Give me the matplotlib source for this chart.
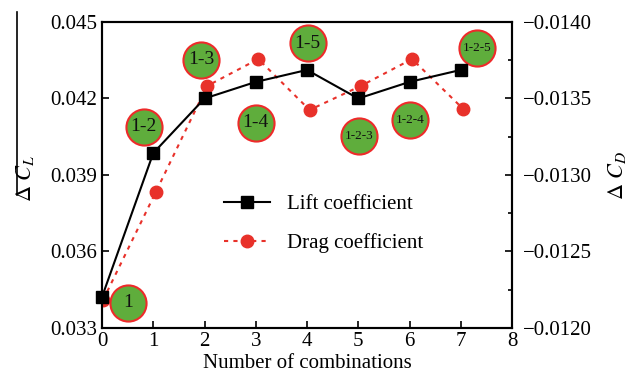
import matplotlib
matplotlib.use("Agg")
import matplotlib.pyplot as plt
from matplotlib.lines import Line2D
from matplotlib.ticker import MultipleLocator, FixedLocator, FuncFormatter

plt.rcParams['font.family'] = ['Liberation Serif', 'DejaVu Serif']
plt.rcParams['mathtext.fontset'] = 'stix'

lift_x = [0, 1, 2, 3, 4, 5, 6, 7]
lift_y = [0.03422, 0.03986, 0.04200, 0.04265, 0.04312, 0.04200, 0.04265, 0.04312]
drag_x = [0.02, 1.05, 2.05, 3.05, 4.05, 5.05, 6.05, 7.05]
drag_y = [-0.012183, -0.012889, -0.013582, -0.013758, -0.013425, -0.013582, -0.013758, -0.013431]

labels = ["1", "1-2", "1-3", "1-4", "1-5", "1-2-3", "1-2-4", "1-2-5"]
label_x = [0.51, 0.81, 1.93, 3.0, 4.01, 5.01, 6.01, 7.31]
label_y = [0.03399, 0.04089, 0.04351, 0.04105, 0.04416, 0.04053, 0.04116, 0.04397]
label_size = [14, 14, 14, 14, 14, 9.5, 9.5, 9.5]

fig = plt.figure(figsize=(6.31, 3.82), dpi=100)
ax = fig.add_axes([0.1617, 0.1414, 0.6497, 0.801])
ax2 = ax.twinx()

ax.set_xlim(0, 8)
ax.set_ylim(0.033, 0.045)
ax2.set_ylim(-0.0120, -0.0140)

ax.set_zorder(ax2.get_zorder() + 1)
ax.patch.set_visible(False)

ax2.plot(drag_x, drag_y, linestyle=(0, (2, 2.5)), color='#e8312a', linewidth=1.5,
         marker='o', markersize=9, markerfacecolor='#e8312a', markeredgecolor='#e8312a', zorder=2)

ax.plot(lift_x, lift_y, color='black', linewidth=1.5, marker='s', markersize=8,
        markerfacecolor='black', markeredgecolor='black', zorder=5, clip_on=False)

for lab, lx, ly, fs in zip(labels, label_x, label_y, label_size):
    ax.plot([lx], [ly], marker='o', markersize=26, markerfacecolor='#5fad3c',
            markeredgecolor='#ee2a2a', markeredgewidth=1.5, zorder=4, linestyle='none')
    ax.text(lx, ly, lab, ha='center', va='center', fontsize=fs, zorder=6, color='#111111')

ax.xaxis.set_major_locator(MultipleLocator(1))
ax.yaxis.set_major_locator(FixedLocator([0.033, 0.036, 0.039, 0.042, 0.045]))
ax.yaxis.set_major_formatter(FuncFormatter(lambda v, p: f"{v:.3f}"))
ax2.yaxis.set_major_locator(FixedLocator([-0.0120, -0.0125, -0.0130, -0.0135, -0.0140]))
ax2.yaxis.set_minor_locator(FixedLocator([-0.01225, -0.01275, -0.01325, -0.01375]))
ax2.yaxis.set_major_formatter(FuncFormatter(lambda v, p: f"{v:.4f}".replace('-', '\u2212')))

ax.tick_params(axis='both', direction='in', length=5, width=1.2, labelsize=15, top=False, right=False)
ax.tick_params(axis='x', pad=3)
ax2.tick_params(axis='y', which='major', direction='in', length=5, width=1.2, labelsize=15, pad=8)
ax2.tick_params(axis='y', which='minor', direction='in', length=3, width=1.2)

for a in (ax, ax2):
    for s in a.spines.values():
        s.set_linewidth(1.5)

ax.set_xlabel("Number of combinations", fontsize=15, labelpad=2)
ax.set_ylabel(r"$\Delta\ C_L$", fontsize=16, labelpad=10)
ax.yaxis.set_label_coords(-0.16, 0.49)
ax2.set_ylabel(r"$\Delta\ C_D$", fontsize=16, labelpad=10)

fig.add_artist(Line2D([17/631, 17/631], [1 - 12/382, 1 - 195/382], color='black', linewidth=1.2))

handles = [Line2D([], [], color='black', linewidth=1.5, marker='s', markersize=8),
           Line2D([], [], color='#e8312a', linestyle=(0, (2, 2.5)), linewidth=1.5, marker='o', markersize=9)]
ax.legend(handles, ["Lift coefficient", "Drag coefficient"], loc='center', bbox_to_anchor=(0.54, 0.34),
          frameon=False, fontsize=15, handlelength=2.2, labelspacing=0.9)

fig.savefig("out.png", dpi=100)
